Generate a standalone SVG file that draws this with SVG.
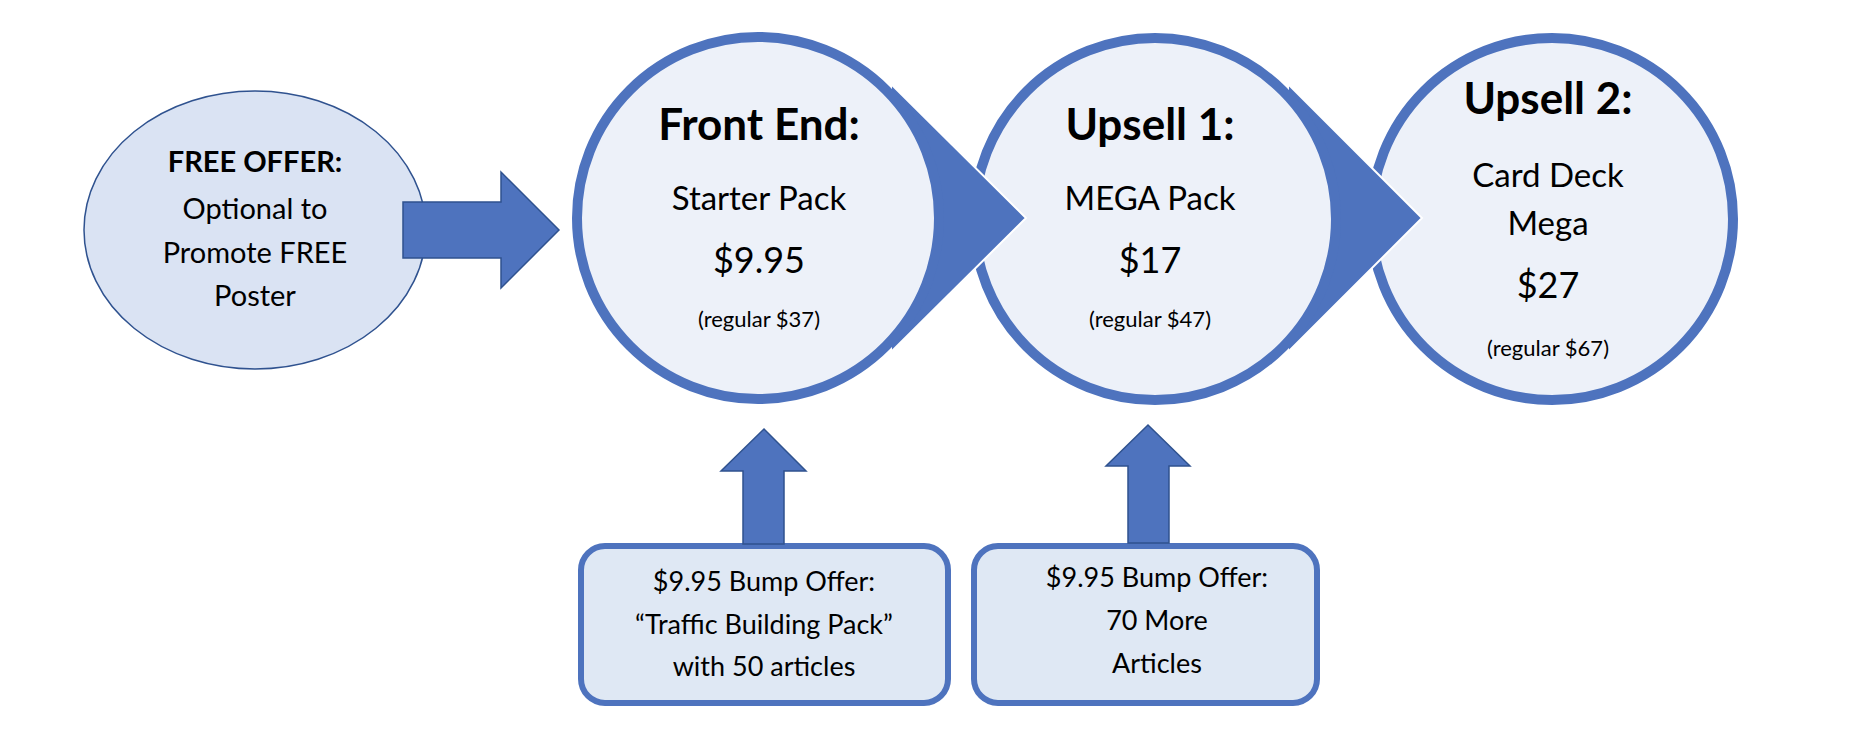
<svg xmlns="http://www.w3.org/2000/svg" width="1876" height="756" viewBox="0 0 1876 756">
<style>
text{font-family:Lato,"Open Sans","Liberation Sans",sans-serif;fill:#000;text-anchor:middle}
.t{font-weight:bold;font-size:44px}
.m{font-size:33px}
.p{font-size:36px}
.s{font-size:22px}
.f{font-size:29px}
.b{font-size:27px}
.circ{fill:#edf1f9;stroke:#4e73be;stroke-width:10}
.ptr{fill:#4e73be;stroke:#fff;stroke-width:2}
.arr{fill:#4e73be;stroke:#2f528f;stroke-width:1.5}
.box{fill:#dfe8f4;stroke:#4e73be;stroke-width:6}
</style>
<rect width="1876" height="756" fill="#fff"/>
<g id="upsell2">
<circle class="circ" cx="1552" cy="219" r="181"/>
<text class="t" x="1548" y="114">Upsell 2:</text>
<text class="m" x="1548" y="187">Card Deck</text>
<text class="m" x="1548" y="235">Mega</text>
<text class="p" x="1548" y="298">$27</text>
<text class="s" x="1548" y="356">(regular $67)</text>
</g>
<g id="upsell1">
<polygon class="ptr" points="1288,84 1422,218 1288,352"/>
<circle class="circ" cx="1155" cy="219" r="181"/>
<text class="t" x="1150" y="140">Upsell 1:</text>
<text class="m" x="1150" y="210">MEGA Pack</text>
<text class="p" x="1150" y="273">$17</text>
<text class="s" x="1150" y="327">(regular $47)</text>
</g>
<g id="frontend">
<polygon class="ptr" points="891,84 1026,218 891,352"/>
<circle class="circ" cx="758" cy="218" r="181"/>
<text class="t" x="759" y="140">Front End:</text>
<text class="m" x="759" y="210">Starter Pack</text>
<text class="p" x="759" y="273">$9.95</text>
<text class="s" x="759" y="327">(regular $37)</text>
</g>
<g id="free">
<ellipse cx="255" cy="230" rx="171" ry="139" fill="#dae3f3" stroke="#2f528f" stroke-width="1.5"/>
<text class="f" x="255" y="172" font-weight="bold">FREE OFFER:</text>
<text class="f" x="255" y="219">Optional to</text>
<text class="f" x="255" y="263">Promote FREE</text>
<text class="f" x="255" y="306">Poster</text>
</g>
<g id="bump1">
<rect class="box" x="581" y="546" width="367" height="157" rx="24"/>
<text class="b" x="764" y="591">$9.95 Bump Offer:</text>
<text class="b" x="764" y="634">“Traffic Building Pack”</text>
<text class="b" x="764" y="676">with 50 articles</text>
</g>
<g id="bump2">
<rect class="box" x="974" y="546" width="343" height="157" rx="24"/>
<text class="b" x="1157" y="587">$9.95 Bump Offer:</text>
<text class="b" x="1157" y="630">70 More</text>
<text class="b" x="1157" y="673">Articles</text>
</g>
<g id="connectors">
<polygon class="arr" points="403,202 501,202 501,172 559,230 501,288 501,258 403,258"/>
<polygon class="arr" points="743,544 743,471 721,471 764,429 806,471 784,471 784,544"/>
<polygon class="arr" points="1128,543 1128,466 1106,466 1148,425 1190,466 1169,466 1169,543"/>
</g>
</svg>
